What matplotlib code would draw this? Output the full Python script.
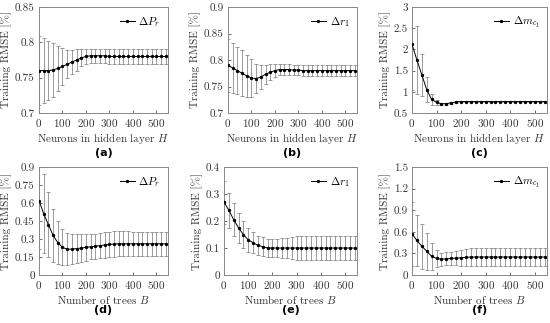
import numpy as np
import matplotlib
matplotlib.use('Agg')
import matplotlib.pyplot as plt

plt.rcParams['font.family'] = 'serif'
plt.rcParams['font.serif'] = ['cmr10', 'DejaVu Serif']
plt.rcParams['mathtext.fontset'] = 'cm'
plt.rcParams['axes.formatter.use_mathtext'] = True
plt.rcParams['font.size'] = 8

# x values: neurons / trees
x_vals = list(range(0, 541, 20))

# (a) dP_r vs neurons
a_y = [0.760, 0.760, 0.760, 0.761, 0.763, 0.766, 0.769, 0.772, 0.775, 0.778,
       0.780, 0.781, 0.781, 0.781, 0.781, 0.780, 0.780, 0.780, 0.780, 0.780,
       0.780, 0.780, 0.780, 0.780, 0.780, 0.780, 0.780, 0.780]
a_err = [0.049, 0.046, 0.042, 0.038, 0.032, 0.026, 0.020, 0.017, 0.015, 0.012,
         0.010, 0.010, 0.010, 0.010, 0.010, 0.010, 0.010, 0.010, 0.010, 0.010,
         0.010, 0.010, 0.010, 0.010, 0.010, 0.010, 0.010, 0.010]

# (b) dr_1 vs neurons
b_y = [0.790, 0.785, 0.780, 0.775, 0.770, 0.766, 0.765, 0.768, 0.773, 0.777,
       0.780, 0.782, 0.782, 0.782, 0.781, 0.781, 0.780, 0.780, 0.780, 0.780,
       0.780, 0.780, 0.780, 0.780, 0.780, 0.780, 0.780, 0.780]
b_err = [0.050, 0.047, 0.045, 0.043, 0.040, 0.035, 0.028, 0.022, 0.018, 0.015,
         0.012, 0.010, 0.010, 0.010, 0.010, 0.010, 0.010, 0.010, 0.010, 0.010,
         0.010, 0.010, 0.010, 0.010, 0.010, 0.010, 0.010, 0.010]

# (c) dm_c1 vs neurons
c_y = [2.12, 1.75, 1.40, 1.05, 0.82, 0.75, 0.72, 0.72, 0.74, 0.76,
       0.77, 0.77, 0.77, 0.77, 0.77, 0.77, 0.77, 0.77, 0.77, 0.77,
       0.77, 0.77, 0.77, 0.77, 0.77, 0.77, 0.77, 0.77]
c_err = [1.07, 0.80, 0.50, 0.30, 0.12, 0.05, 0.02, 0.02, 0.02, 0.02,
         0.02, 0.02, 0.02, 0.02, 0.02, 0.02, 0.02, 0.02, 0.02, 0.02,
         0.02, 0.02, 0.02, 0.02, 0.02, 0.02, 0.02, 0.02]

# (d) dP_r vs trees
d_y = [0.62, 0.51, 0.42, 0.33, 0.27, 0.23, 0.215, 0.215, 0.22, 0.225,
       0.23, 0.235, 0.24, 0.245, 0.25, 0.255, 0.258, 0.26, 0.26, 0.26,
       0.26, 0.26, 0.26, 0.26, 0.26, 0.26, 0.26, 0.26]
d_err = [0.40, 0.33, 0.27, 0.22, 0.18, 0.15, 0.135, 0.125, 0.12, 0.115,
         0.11, 0.105, 0.105, 0.105, 0.105, 0.105, 0.105, 0.105, 0.105, 0.105,
         0.10, 0.10, 0.10, 0.10, 0.10, 0.10, 0.10, 0.10]

# (e) dr_1 vs trees
e_y = [0.270, 0.240, 0.205, 0.175, 0.150, 0.130, 0.120, 0.110, 0.105, 0.100,
       0.100, 0.100, 0.100, 0.100, 0.100, 0.100, 0.100, 0.100, 0.100, 0.100,
       0.100, 0.100, 0.100, 0.100, 0.100, 0.100, 0.100, 0.100]
e_err = [0.080, 0.065, 0.060, 0.055, 0.050, 0.045, 0.040, 0.035, 0.034, 0.033,
         0.033, 0.034, 0.036, 0.038, 0.041, 0.043, 0.043, 0.043, 0.043, 0.043,
         0.043, 0.043, 0.043, 0.043, 0.043, 0.043, 0.043, 0.043]

# (f) dm_c1 vs trees
f_y = [0.57, 0.48, 0.40, 0.33, 0.26, 0.23, 0.22, 0.225, 0.23, 0.235,
       0.24, 0.245, 0.25, 0.25, 0.25, 0.25, 0.25, 0.25, 0.25, 0.25,
       0.25, 0.25, 0.25, 0.25, 0.25, 0.25, 0.25, 0.25]
f_err = [0.44, 0.36, 0.31, 0.26, 0.19, 0.12, 0.09, 0.09, 0.09, 0.10,
         0.11, 0.12, 0.12, 0.12, 0.12, 0.12, 0.12, 0.12, 0.12, 0.12,
         0.12, 0.12, 0.12, 0.12, 0.12, 0.12, 0.12, 0.12]

panels = [
    # (rect, y, err, ylim, yticks, legend, xlabel, tag)
    ([39, 7, 129, 106], a_y, a_err, (0.7, 0.85), [0.7, 0.75, 0.8, 0.85],
     r'$\Delta P_r$', r'Neurons in hidden layer $H$', '(a)'),
    ([228, 7, 129, 106], b_y, b_err, (0.7, 0.9), [0.7, 0.75, 0.8, 0.85, 0.9],
     r'$\Delta r_1$', r'Neurons in hidden layer $H$', '(b)'),
    ([412, 7, 135, 106], c_y, c_err, (0.5, 3.0), [0.5, 1, 1.5, 2, 2.5, 3],
     r'$\Delta m_{c_1}$', r'Neurons in hidden layer $H$', '(c)'),
    ([39, 167, 129, 108], d_y, d_err, (0, 0.9), [0, 0.15, 0.3, 0.45, 0.6, 0.75, 0.9],
     r'$\Delta P_r$', r'Number of trees $B$', '(d)'),
    ([224, 167, 133, 108], e_y, e_err, (0, 0.4), [0, 0.1, 0.2, 0.3, 0.4],
     r'$\Delta r_1$', r'Number of trees $B$', '(e)'),
    ([412, 167, 135, 108], f_y, f_err, (0, 1.5), [0, 0.3, 0.6, 0.9, 1.2, 1.5],
     r'$\Delta m_{c_1}$', r'Number of trees $B$', '(f)'),
]

W, H = 550, 323
fig = plt.figure(figsize=(5.5, 3.23), dpi=100)

for rect, y, err, ylim, yticks, leg, xlab, tag in panels:
    l, t, w, h = rect
    ax = fig.add_axes([l / W, 1 - (t + h) / H, w / W, h / H])
    ax.errorbar(x_vals, y, yerr=err, fmt='none', ecolor='#808080',
                elinewidth=0.55, capsize=1.5, capthick=0.55, zorder=2)
    ax.plot(x_vals, y, '-', color='black', marker='o', markersize=1.4,
            linewidth=0.7, label=leg, zorder=3)
    ax.set_xlim(0, 550)
    ax.set_ylim(*ylim)
    ax.set_xticks([0, 100, 200, 300, 400, 500])
    ax.set_yticks(yticks)
    ax.set_yticklabels([f'{v:g}' for v in yticks])
    ax.tick_params(direction='in', length=2, width=0.5, colors='#333333',
                   labelsize=8, pad=3)
    for s in ax.spines.values():
        s.set_color('#888888')
        s.set_linewidth(0.7)
    ax.set_ylabel('Training RMSE [%]', fontsize=8, labelpad=2, color='#333333')
    ax.set_xlabel(xlab, fontsize=8, labelpad=1, color='#333333')
    ax.legend(loc='upper right', frameon=False, fontsize=8,
              handlelength=1.4, handletextpad=0.3, borderaxespad=0.3)
    ly = 153 if t < 100 else 310
    fig.text((l + w / 2) / W, 1 - ly / H, tag, ha='center', va='center',
             fontsize=8, fontweight='bold', family='DejaVu Sans')

fig.savefig('out.png', dpi=100)
